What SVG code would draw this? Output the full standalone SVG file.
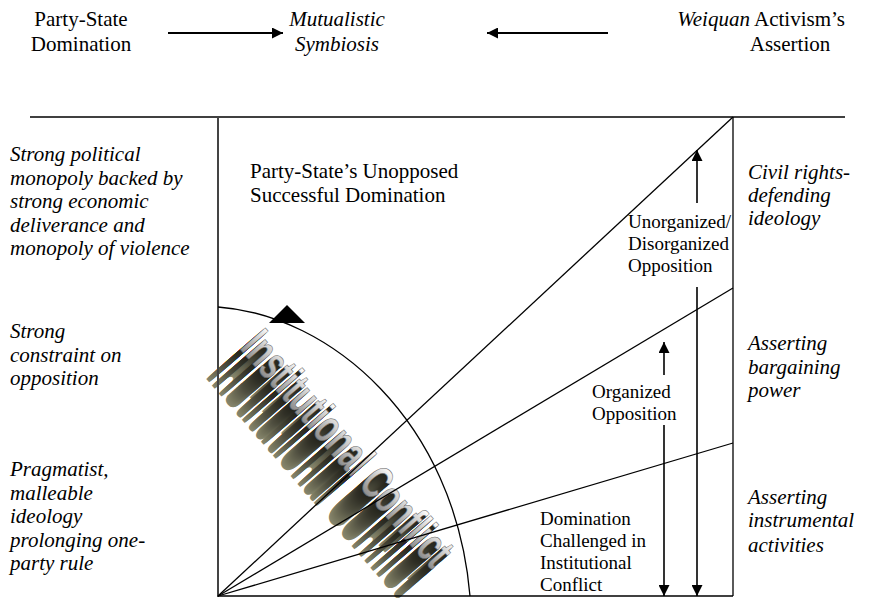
<svg xmlns="http://www.w3.org/2000/svg" width="875" height="598" viewBox="0 0 875 598">
<style>
.t{font-family:"Liberation Serif","Times New Roman",serif;font-size:21px;fill:#000}
.s{font-family:"Liberation Serif","Times New Roman",serif;font-size:19px;fill:#000}
.i{font-style:italic}
.ln{stroke:#000;stroke-width:1.3;fill:none}
.ar{stroke:#000;stroke-width:1.6;fill:none;marker-end:url(#ah)}
.har{stroke:#000;stroke-width:2;fill:none;marker-end:url(#ah)}
.wa{font-family:"Liberation Sans Narrow","Liberation Sans",sans-serif;font-weight:bold;font-size:48px}
</style>
<defs>
<marker id="ah" viewBox="0 0 10 10" refX="10" refY="5" markerWidth="11" markerHeight="11" markerUnits="userSpaceOnUse" orient="auto">
<path d="M0,0 L10,5 L0,10 z" fill="#000"/>
</marker>
<linearGradient id="face" gradientUnits="userSpaceOnUse" x1="0" y1="-35" x2="0" y2="0">
<stop offset="0" stop-color="#ffffff"/>
<stop offset="1" stop-color="#8e8e8e"/>
</linearGradient>
<text id="ic" class="wa" x="0" y="0" textLength="294" lengthAdjust="spacingAndGlyphs">Institutional Conflict</text>
</defs>

<g id="wordart" transform="translate(239,348) rotate(49)">
<use href="#ic" y="45" fill="#86866c"/>
<use href="#ic" y="43.5" fill="#82826a"/>
<use href="#ic" y="42" fill="#7e7e66"/>
<use href="#ic" y="40.5" fill="#7a7a62"/>
<use href="#ic" y="39" fill="#76765e"/>
<use href="#ic" y="37.5" fill="#72725b"/>
<use href="#ic" y="36" fill="#6e6e58"/>
<use href="#ic" y="34.5" fill="#6a6a55"/>
<use href="#ic" y="33" fill="#666652"/>
<use href="#ic" y="31.5" fill="#62624f"/>
<use href="#ic" y="30" fill="#5e5e4c"/>
<use href="#ic" y="28.5" fill="#5a5a49"/>
<use href="#ic" y="27" fill="#565646"/>
<use href="#ic" y="25.5" fill="#525243"/>
<use href="#ic" y="24" fill="#4e4e40"/>
<use href="#ic" y="22.5" fill="#4b4b3d"/>
<use href="#ic" y="21" fill="#48483a"/>
<use href="#ic" y="19.5" fill="#454537"/>
<use href="#ic" y="18" fill="#424235"/>
<use href="#ic" y="16.5" fill="#3f3f33"/>
<use href="#ic" y="15" fill="#3c3c30"/>
<use href="#ic" y="13.5" fill="#39392e"/>
<use href="#ic" y="12" fill="#36362b"/>
<use href="#ic" y="10.5" fill="#333329"/>
<use href="#ic" y="9" fill="#303027"/>
<use href="#ic" y="7.5" fill="#2e2e25"/>
<use href="#ic" y="6" fill="#2c2c23"/>
<use href="#ic" y="4.5" fill="#2a2a21"/>
<use href="#ic" y="3" fill="#282820"/>
<use href="#ic" y="1.5" fill="#26261e"/>
<use href="#ic" y="0" fill="url(#face)" stroke="#6a6a6a" stroke-width="0.6"/>
</g>

<g id="header-left"><text class="t" x="81" y="26" text-anchor="middle">Party-State</text><text class="t" x="81" y="51" text-anchor="middle">Domination</text></g>
<g id="header-center"><text class="t i" x="337" y="26" text-anchor="middle">Mutualistic</text><text class="t i" x="337" y="51" text-anchor="middle">Symbiosis</text></g>
<g id="header-right"><text class="t" x="845" y="26" text-anchor="end"><tspan class="i">Weiquan</tspan> Activism’s</text><text class="t" x="790" y="51" text-anchor="middle">Assertion</text></g>

<g id="left-labels">
<g id="l1"><text class="t i" x="10" y="161">Strong political</text><text class="t i" x="10" y="184.5">monopoly backed by</text><text class="t i" x="10" y="208">strong economic</text><text class="t i" x="10" y="231.5">deliverance and</text><text class="t i" x="10" y="255">monopoly of violence</text></g>
<g id="l2"><text class="t i" x="10" y="338">Strong</text><text class="t i" x="10" y="361.5">constraint on</text><text class="t i" x="10" y="385">opposition</text></g>
<g id="l3"><text class="t i" x="10" y="476">Pragmatist,</text><text class="t i" x="10" y="499.5">malleable</text><text class="t i" x="10" y="523">ideology</text><text class="t i" x="10" y="546.5">prolonging one-</text><text class="t i" x="10" y="570">party rule</text></g>
</g>

<g id="right-labels">
<g id="r1"><text class="t i" x="748" y="179">Civil rights-</text><text class="t i" x="748" y="202">defending</text><text class="t i" x="748" y="225">ideology</text></g>
<g id="r2"><text class="t i" x="748" y="350">Asserting</text><text class="t i" x="748" y="374">bargaining</text><text class="t i" x="748" y="397">power</text></g>
<g id="r3"><text class="t i" x="748" y="504">Asserting</text><text class="t i" x="748" y="527">instrumental</text><text class="t i" x="748" y="552">activities</text></g>
</g>

<g id="zone-labels">
<g id="domination"><text class="t" x="250" y="178">Party-State’s Unopposed</text><text class="t" x="250" y="202">Successful Domination</text></g>
<g id="unorganized"><text class="s" x="628" y="228">Unorganized/</text><text class="s" x="628" y="250">Disorganized</text><text class="s" x="628" y="272">Opposition</text></g>
<g id="organized"><text class="s" x="592" y="398">Organized</text><text class="s" x="592" y="420">Opposition</text></g>
<g id="challenged"><text class="s" x="540" y="525">Domination</text><text class="s" x="540" y="547">Challenged in</text><text class="s" x="540" y="569">Institutional</text><text class="s" x="540" y="591">Conflict</text></g>
</g>

<g id="connectors">
<line class="har" x1="168" y1="33" x2="283" y2="33"/>
<line class="har" x1="608" y1="33" x2="487" y2="33"/>
<line class="ln" x1="30" y1="117" x2="845" y2="117"/>
<line x1="218" y1="117" x2="218" y2="597" stroke="#444" stroke-width="2"/>
<line class="ln" x1="733" y1="117" x2="733" y2="596"/>
<line class="ln" x1="218" y1="596" x2="733" y2="596"/>
<line class="ln" x1="218" y1="596" x2="733" y2="117"/>
<line class="ln" x1="218" y1="596" x2="733" y2="288"/>
<line class="ln" x1="218" y1="596" x2="733" y2="443"/>
<path class="ln" d="M218,307 C330,315 455,420 470,596"/>
<polygon points="287,305 269,323 305,323" fill="#000"/>
<line class="ar" x1="697" y1="203" x2="697" y2="150"/>
<line class="ar" x1="697" y1="287" x2="697" y2="596"/>
<line class="ar" x1="664" y1="375" x2="664" y2="342"/>
<line class="ar" x1="664" y1="425" x2="664" y2="596"/>
</g>
</svg>
